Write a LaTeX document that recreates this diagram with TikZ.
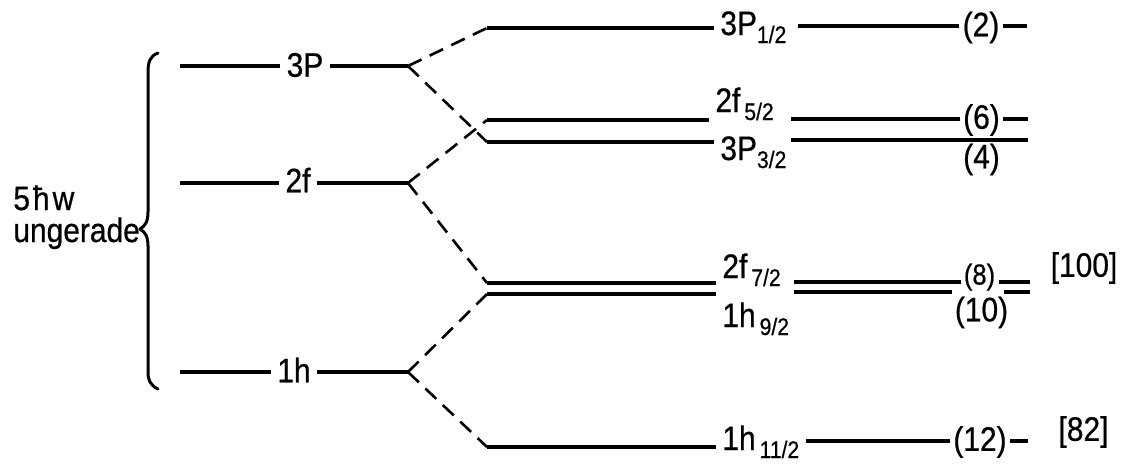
\documentclass[tikz,border=0pt]{standalone}
\usepackage{fontspec}
\setmainfont{Liberation Sans}[FakeStretch=0.88, FakeBold=0.6]
\usetikzlibrary{calc}
\newcommand\sbs[1]{\raisebox{-4pt}{\fontsize{12}{12}\selectfont #1}}
\newcommand\lab[3]{\makebox[#3][l]{#1\sbs{#2}}}
\begin{document}
\begin{tikzpicture}[x=0.5pt,y=-0.5pt,
  lev/.style={line width=1.8pt},
  dsh/.style={line width=1.3pt, dash pattern=on 7.5pt off 4.5pt},
  lbl/.style={font=\fontsize{17}{20}\selectfont, inner xsep=3pt, inner ysep=0pt},
  sublbl/.style={lbl, anchor=base west},
  num/.style={lbl, inner xsep=1.5pt},
  brc/.style={line width=1.5pt, line cap=round, line join=round}]
\useasboundingbox (0,0) rectangle (1125,463);

% left group label and brace
\node[lbl, inner sep=0pt, anchor=base west] (hw) at (13,210) {5\kern1.5pt ħ\kern1.5pt w};
\node[lbl, inner sep=0pt, anchor=base west] (ug) at (13,242) {ungerade};
\draw[brc] (158,53) .. controls (150,56) and (148,62) .. (148,72) -- (148,212)
  .. controls (148,222) and (145,226) .. (140,229)
  .. controls (145,232) and (148,236) .. (148,246) -- (148,372)
  .. controls (148,380) and (150,385) .. (158,389);

% unsplit levels
\coordinate (a3) at (180,66);  \coordinate (v3) at (408,66);
\coordinate (a2) at (180,183); \coordinate (v2) at (408,183);
\coordinate (a1) at (180,372); \coordinate (v1) at (408,372);
\node[lbl] (n3P) at (305,65) {3P};
\node[lbl] (n2f) at (298,180) {2f};
\node[lbl] (n1h) at (294,370) {1h};

% split points
\coordinate (s1) at (487,28);
\coordinate (s5) at (487,120);
\coordinate (s3) at (487,142);
\coordinate (s7) at (487,283);
\coordinate (s9) at (487,294);
\coordinate (s11) at (487,447);

% split level labels
\node[sublbl] (t1) at (714,35) {\lab{3P}{1/2}{35.5pt}};
\node[sublbl] (t5) at (709,112) {\lab{2f}{\,5/2}{34.5pt}};
\node[sublbl] (t3) at (714,160) {\lab{3P}{3/2}{32pt}};
\node[sublbl] (t7) at (716,278) {\lab{2f}{\,7/2}{32.5pt}};
\node[sublbl] (t9) at (716,327) {\lab{1h}{\,9/2}{32.5pt}};
\node[sublbl] (t11) at (716,450) {\lab{1h}{\,11/2}{38.5pt}};

% occupation numbers
\node[num] (p2) at (981,27.5) {(2)};
\node[num] (p6) at (981.5,120) {(6)};
\node[num] (p4) at (981.5,159.5) {(4)};
\node[num, font=\fontsize{14.5}{17}\selectfont] (p8) at (979.5,277) {(8)};
\node[num] (p10) at (981.5,312.5) {(10)};
\node[num] (p12) at (980,442) {(12)};
\node[lbl] (b100) at (1084,268) {[100]};
\node[lbl] (b82) at (1083.5,432) {[82]};

% right free ends
\coordinate (e2) at (1027,26);
\coordinate (e6) at (1028,119);
\coordinate (e4) at (1028,140);
\coordinate (e8) at (1030,282);
\coordinate (e10) at (1030,292);
\coordinate (e12) at (1028,441);

% left level lines
\draw[lev] (a3) -- (n3P.west |- a3);  \draw[lev] (n3P.east |- v3) -- (v3);
\draw[lev] (a2) -- (n2f.west |- a2);  \draw[lev] (n2f.east |- v2) -- (v2);
\draw[lev] (a1) -- (n1h.west |- a1);  \draw[lev] (n1h.east |- v1) -- (v1);

% dashed splittings
\draw[dsh] (v3) -- (s1);
\draw[dsh] (v3) -- (s3);
\draw[dsh] (v2) -- (s5);
\draw[dsh] (v2) -- (s7);
\draw[dsh] (v1) -- (s9);
\draw[dsh] (v1) -- (s11);

% split level lines
\draw[lev] (s1) -- (s1 -| t1.west);
\draw[lev] (s5) -- (s5 -| t5.west);
\draw[lev] (s3) -- (s3 -| t3.west);
\draw[lev] (s7) -- (s7 -| t7.west);
\draw[lev] (s9) -- (s9 -| t9.west);
\draw[lev] (s11) -- (s11 -| t11.west);

% right parts
\draw[lev] (t1.east |- e2) -- (p2.west |- e2);  \draw[lev] (p2.east |- e2) -- (e2);
\draw[lev] (t5.east |- e6) -- (p6.west |- e6);  \draw[lev] (p6.east |- e6) -- (e6);
\draw[lev] (t3.east |- e4) -- (e4);
\draw[lev] (t7.east |- e8) -- (p8.west |- e8);  \draw[lev] (p8.east |- e8) -- (e8);
\draw[lev] (t9.east |- e10) -- (p10.west |- e10); \draw[lev] ($(p10.east |- e10)+(-8,0)$) -- (e10);
\draw[lev] (t11.east |- e12) -- (p12.west |- e12); \draw[lev] (p12.east |- e12) -- (e12);
\end{tikzpicture}
\end{document}
